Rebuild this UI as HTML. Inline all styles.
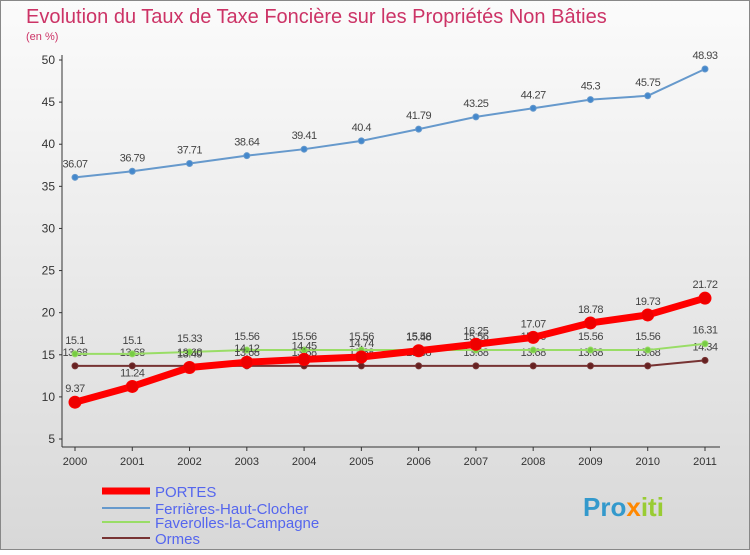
<!DOCTYPE html>
<html><head><meta charset="utf-8"><style>
body{margin:0;width:750px;height:550px;overflow:hidden;font-family:"Liberation Sans",sans-serif}
svg text{font-family:"Liberation Sans",sans-serif}
</style></head><body>
<svg id="c" width="750" height="550" xmlns="http://www.w3.org/2000/svg">
<defs><linearGradient id="bg" x1="0" y1="0" x2="0" y2="1"><stop offset="0" stop-color="#fbfbfb"/><stop offset="1" stop-color="#d8d8d8"/></linearGradient></defs>
<rect x="0.5" y="0.5" width="749" height="549" fill="url(#bg)" stroke="#888"/>
<text x="26" y="23" font-size="20" fill="#cc3366">Evolution du Taux de Taxe Foncière sur les Propriétés Non Bâties</text>
<text x="26" y="40" font-size="11" fill="#cc3366">(en %)</text>
<g id="axes"></g><g id="series"></g>
<g>
<line x1="102" y1="491" x2="150" y2="491" stroke="#ff0000" stroke-width="7"/>
<text x="155" y="497" font-size="15" fill="#5566ee">PORTES</text>
<line x1="102" y1="508" x2="150" y2="508" stroke="#6699cc" stroke-width="2"/>
<text x="155" y="514" font-size="15" fill="#5566ee">Ferrières-Haut-Clocher</text>
<line x1="102" y1="522" x2="150" y2="522" stroke="#99dd66" stroke-width="2"/>
<text x="155" y="528" font-size="15" fill="#5566ee">Faverolles-la-Campagne</text>
<line x1="102" y1="538" x2="150" y2="538" stroke="#773333" stroke-width="2"/>
<text x="155" y="544" font-size="15" fill="#5566ee">Ormes</text>
</g>
<text x="583" y="516" font-size="26" font-weight="bold" fill="#3399cc">Pro<tspan fill="#ff8800">x</tspan><tspan fill="#99cc33">iti</tspan></text>
</svg>
<script>
const years=[2000,2001,2002,2003,2004,2005,2006,2007,2008,2009,2010,2011];
const yTicks=[5,10,15,20,25,30,35,40,45,50];
const portes=[9.37,11.24,13.49,14.12,14.45,14.74,15.48,16.25,17.07,18.78,19.73,21.72];
const ferrieres=[36.07,36.79,37.71,38.64,39.41,40.4,41.79,43.25,44.27,45.3,45.75,48.93];
const faverolles=[15.1,15.1,15.33,15.56,15.56,15.56,15.56,15.56,15.56,15.56,15.56,16.31];
const ormes=[13.68,13.68,13.68,13.68,13.68,13.68,13.68,13.68,13.68,13.68,13.68,14.34];
const NS="http://www.w3.org/2000/svg";
const X=i=>75+i*(630/(years.length-1));
const Y=v=>439-(v-5)*(379/45);
function mk(t,a,p){const e=document.createElementNS(NS,t);for(const k in a)e.setAttribute(k,a[k]);p.appendChild(e);return e;}
const ax=document.getElementById('axes');
const yl=mk('line',{x1:62,y1:55,x2:62,y2:447,stroke:'#333'},ax);


const xl=mk('line',{x1:62,y1:447,x2:720,y2:447,stroke:'#333'},ax);


yTicks.forEach(v=>{
 mk('line',{x1:59,y1:Y(v),x2:62,y2:Y(v),stroke:'#333'},ax);
 const t=mk('text',{x:55,y:Y(v)+4,'font-size':12,'text-anchor':'end',fill:'#333'},ax);t.textContent=v;
 
 
});
years.forEach((y,i)=>{
 mk('line',{x1:X(i),y1:447,x2:X(i),y2:451,stroke:'#333'},ax);
 const t=mk('text',{x:X(i),y:465,'font-size':11,'text-anchor':'middle',fill:'#333'},ax);t.textContent=y;
 
 
});
const sg=document.getElementById('series');
function draw(vals,name,col,w,r,dotFill){
 const g=mk('g',{},sg);
 
 
 const pl=mk('polyline',{points:vals.map((v,i)=>X(i)+','+Y(v)).join(' '),fill:'none',stroke:col,'stroke-width':w,'stroke-linejoin':'round'},g);
 
 
 vals.forEach((v,i)=>{
  const c=mk('circle',{cx:X(i),cy:Y(v),r:r,fill:dotFill,stroke:col,'stroke-width':1},g);
  
  
  const t=mk('text',{x:X(i),y:Y(v)-10,'font-size':11,'text-anchor':'middle',fill:'#444','letter-spacing':'-0.5'},g);
  t.textContent=v;
  
  
 });
}
draw(ormes,'ormes','#773333',2,3,'#662222');
draw(faverolles,'faverolles','#99dd66',2,3,'#77cc44');
draw(ferrieres,'ferrieres','#6699cc',2,3,'#4488cc');
draw(portes,'portes','#ff0000',7,6,'#ee0000');
</script>
</body></html>
